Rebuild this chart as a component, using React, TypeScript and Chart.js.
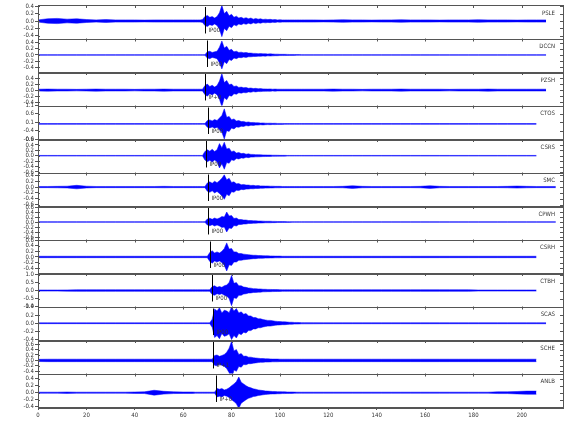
import React, { useEffect, useRef } from "react";
import { Chart, registerables } from "chart.js";

Chart.register(...registerables);

// ---- data ----
const STATIONS = ["PSLE", "DCCN", "PZSH", "CTOS", "CSRS", "SMC", "CPWH", "CSRH", "CTBH", "SCAS", "SCHE", "ANLB"];
const PICKS = ["IP00", "IP00", "IP+0", "IP00", "IP00", "IP00", "IP00", "IP00", "IP00", "IP00", "IP+1", "IP+0"];
const P_TIMES = [69, 69.7, 69, 70.2, 69.3, 70.2, 70.2, 71, 71.8, 72.3, 72.3, 73.4];
const Y_MIN = [-0.47, -0.55, -0.51, -0.9, -0.62, -0.65, -0.7, -0.57, -1.0, -0.41, -0.48, -0.41];
const Y_MAX = [0.43, 0.53, 0.6, 1.1, 0.62, 0.5, 0.64, 0.62, 1.1, 0.41, 0.75, 0.55];
const Y_STEP = [0.2, 0.2, 0.2, 0.5, 0.2, 0.2, 0.2, 0.2, 0.5, 0.2, 0.2, 0.2];
const X_TICKS = [0, 20, 40, 60, 80, 100, 120, 140, 160, 180, 200];

const TIMES = [0, 4, 8, 12, 16, 20, 24, 28, 32, 36, 40, 44, 48, 52, 56, 60, 64,
  65, 66, 67, 68, 69, 70, 71, 72, 73, 74, 75, 76, 77, 78, 79, 80, 81, 82, 83, 84,
  85, 86, 87, 88, 89, 90, 91, 92, 93, 94, 95, 96, 97, 98, 99, 100, 101, 102, 103, 104,
  105, 106, 107, 108, 109, 110,
  114, 118, 122, 126, 130, 134, 138, 142, 146, 150, 154, 158, 162, 166, 170, 174, 178, 182, 186, 190, 194, 198, 202, 206, 210, 214];

// envelope amplitudes (half peak-to-peak) per station, one value per entry of TIMES
const AMP_PSLE = [0.03, 0.06, 0.07, 0.05, 0.06, 0.04, 0.03, 0.04, 0.03, 0.03, 0.03, 0.025, 0.03, 0.03, 0.03, 0.03, 0.03,
  0.03, 0.03, 0.03, 0.04, 0.12, 0.15, 0.1, 0.12, 0.08, 0.12,
  0.22, 0.42, 0.2, 0.26, 0.14, 0.18, 0.1, 0.13, 0.08, 0.1,
  0.07, 0.09, 0.06, 0.08, 0.05, 0.07, 0.05, 0.06, 0.04, 0.05,
  0.04, 0.045, 0.035, 0.04, 0.03, 0.035, 0.03, 0.03, 0.03, 0.03,
  0.03, 0.03, 0.03, 0.03, 0.03, 0.03,
  0.03, 0.025, 0.03, 0.035, 0.03, 0.03, 0.025, 0.03, 0.03, 0.035, 0.03, 0.03, 0.03, 0.025, 0.03, 0.03, 0.03, 0.035, 0.03, 0.03, 0.03, 0.025, 0.03, 0.03, 0.03, null];
const AMP_DCCN = [0.01, 0.01, 0.01, 0.01, 0.01, 0.01, 0.01, 0.01, 0.01, 0.01, 0.01, 0.01, 0.01, 0.01, 0.01, 0.01, 0.01,
  0.01, 0.01, 0.01, 0.01, 0.01, 0.1, 0.12, 0.08, 0.1, 0.12,
  0.25, 0.45, 0.22, 0.28, 0.15, 0.18, 0.1, 0.12, 0.08, 0.09,
  0.07, 0.08, 0.06, 0.06, 0.05, 0.05, 0.04, 0.045, 0.035, 0.04,
  0.03, 0.035, 0.03, 0.025, 0.025, 0.02, 0.02, 0.02, 0.018, 0.015,
  0.015, 0.015, 0.012, 0.012, 0.01, 0.01,
  0.01, 0.01, 0.01, 0.01, 0.01, 0.01, 0.01, 0.01, 0.01, 0.01, 0.01, 0.01, 0.01, 0.01, 0.01, 0.01, 0.01, 0.01, 0.01, 0.01, 0.01, 0.01, 0.01, 0.01, 0.01, null];
const AMP_PZSH = [0.03, 0.035, 0.03, 0.03, 0.025, 0.03, 0.035, 0.03, 0.03, 0.03, 0.025, 0.03, 0.03, 0.035, 0.03, 0.03, 0.03,
  0.03, 0.03, 0.03, 0.03, 0.15, 0.2, 0.12, 0.16, 0.1, 0.15,
  0.3, 0.55, 0.25, 0.32, 0.18, 0.2, 0.12, 0.14, 0.09, 0.1,
  0.08, 0.09, 0.06, 0.07, 0.05, 0.06, 0.045, 0.05, 0.04, 0.04,
  0.035, 0.04, 0.03, 0.035, 0.03, 0.03, 0.03, 0.03, 0.03, 0.03,
  0.03, 0.03, 0.03, 0.03, 0.03, 0.03,
  0.03, 0.03, 0.035, 0.03, 0.03, 0.025, 0.03, 0.03, 0.03, 0.035, 0.03, 0.03, 0.03, 0.03, 0.025, 0.03, 0.03, 0.03, 0.035, 0.03, 0.03, 0.03, 0.03, 0.03, 0.03, null];
const AMP_CTOS = [0.025, 0.025, 0.025, 0.025, 0.025, 0.025, 0.025, 0.025, 0.025, 0.025, 0.025, 0.025, 0.025, 0.025, 0.025, 0.025, 0.025,
  0.025, 0.025, 0.025, 0.025, 0.025, 0.2, 0.24, 0.18, 0.26, 0.2,
  0.35, 0.5, 0.9, 0.4, 0.45, 0.25, 0.3, 0.18, 0.2, 0.14,
  0.15, 0.1, 0.12, 0.08, 0.09, 0.07, 0.07, 0.05, 0.06, 0.045,
  0.04, 0.045, 0.035, 0.04, 0.03, 0.03, 0.03, 0.025, 0.025, 0.025,
  0.025, 0.025, 0.025, 0.025, 0.025, 0.025,
  0.025, 0.025, 0.025, 0.025, 0.025, 0.025, 0.025, 0.025, 0.025, 0.025, 0.025, 0.025, 0.025, 0.025, 0.025, 0.025, 0.025, 0.025, 0.025, 0.025, 0.025, 0.025, 0.025, 0.025, null, null];
const AMP_CSRS = [0.012, 0.012, 0.012, 0.012, 0.012, 0.012, 0.012, 0.012, 0.012, 0.012, 0.012, 0.012, 0.012, 0.012, 0.012, 0.012, 0.012,
  0.012, 0.012, 0.012, 0.012, 0.16, 0.22, 0.17, 0.24, 0.16, 0.22,
  0.45, 0.3, 0.5, 0.25, 0.28, 0.15, 0.18, 0.1, 0.12, 0.08,
  0.09, 0.06, 0.07, 0.05, 0.05, 0.04, 0.04, 0.035, 0.03, 0.03,
  0.025, 0.025, 0.02, 0.02, 0.018, 0.015, 0.015, 0.015, 0.012, 0.012,
  0.012, 0.012, 0.012, 0.012, 0.012, 0.012,
  0.012, 0.012, 0.012, 0.012, 0.012, 0.012, 0.012, 0.012, 0.012, 0.012, 0.012, 0.012, 0.012, 0.012, 0.012, 0.012, 0.012, 0.012, 0.012, 0.012, 0.012, 0.012, 0.012, 0.012, null, null];
const AMP_SMC = [0.02, 0.02, 0.025, 0.03, 0.06, 0.03, 0.02, 0.02, 0.02, 0.02, 0.02, 0.02, 0.02, 0.025, 0.02, 0.02, 0.02,
  0.02, 0.02, 0.02, 0.02, 0.02, 0.14, 0.18, 0.13, 0.2, 0.15,
  0.22, 0.3, 0.42, 0.25, 0.3, 0.16, 0.18, 0.11, 0.12, 0.08,
  0.09, 0.07, 0.07, 0.055, 0.06, 0.045, 0.05, 0.04, 0.04, 0.035,
  0.035, 0.03, 0.03, 0.025, 0.025, 0.025, 0.02, 0.02, 0.02, 0.02,
  0.02, 0.02, 0.02, 0.02, 0.02, 0.02,
  0.02, 0.02, 0.02, 0.025, 0.045, 0.025, 0.02, 0.02, 0.02, 0.02, 0.02, 0.025, 0.045, 0.025, 0.02, 0.02, 0.02, 0.02, 0.02, 0.02, 0.025, 0.035, 0.025, 0.02, 0.02, 0.02];
const AMP_CPWH = [0.012, 0.012, 0.012, 0.012, 0.012, 0.012, 0.012, 0.012, 0.012, 0.012, 0.012, 0.012, 0.012, 0.012, 0.012, 0.012, 0.012,
  0.012, 0.012, 0.012, 0.012, 0.012, 0.12, 0.15, 0.11, 0.16, 0.12,
  0.16, 0.22, 0.2, 0.4, 0.24, 0.26, 0.14, 0.16, 0.1, 0.1,
  0.08, 0.08, 0.06, 0.06, 0.05, 0.05, 0.04, 0.04, 0.035, 0.03,
  0.03, 0.03, 0.025, 0.025, 0.02, 0.02, 0.02, 0.018, 0.015, 0.015,
  0.012, 0.012, 0.012, 0.012, 0.012, 0.012,
  0.012, 0.012, 0.012, 0.012, 0.012, 0.012, 0.012, 0.012, 0.012, 0.012, 0.012, 0.012, 0.012, 0.012, 0.012, 0.012, 0.012, 0.012, 0.012, 0.012, 0.012, 0.012, 0.012, 0.012, 0.012, 0.012];
const AMP_CSRH = [0.025, 0.025, 0.025, 0.025, 0.025, 0.025, 0.025, 0.025, 0.025, 0.025, 0.025, 0.025, 0.025, 0.025, 0.025, 0.025, 0.025,
  0.025, 0.025, 0.025, 0.025, 0.025, 0.025, 0.16, 0.22, 0.14, 0.18,
  0.14, 0.2, 0.3, 0.5, 0.28, 0.3, 0.18, 0.18, 0.12, 0.12,
  0.1, 0.09, 0.08, 0.07, 0.06, 0.06, 0.05, 0.05, 0.045, 0.04,
  0.04, 0.035, 0.035, 0.03, 0.03, 0.03, 0.025, 0.025, 0.025, 0.025,
  0.025, 0.025, 0.025, 0.025, 0.025, 0.025,
  0.025, 0.025, 0.025, 0.025, 0.025, 0.025, 0.025, 0.025, 0.025, 0.025, 0.025, 0.025, 0.025, 0.025, 0.025, 0.025, 0.025, 0.025, 0.025, 0.025, 0.025, 0.025, 0.025, 0.025, null, null];
const AMP_CTBH = [0.035, 0.035, 0.035, 0.04, 0.05, 0.05, 0.05, 0.05, 0.05, 0.05, 0.05, 0.05, 0.05, 0.05, 0.05, 0.05, 0.05,
  0.05, 0.05, 0.05, 0.05, 0.05, 0.05, 0.05, 0.25, 0.3, 0.2,
  0.25, 0.2, 0.3, 0.35, 0.5, 0.95, 0.45, 0.5, 0.3, 0.3,
  0.22, 0.2, 0.16, 0.15, 0.12, 0.12, 0.1, 0.1, 0.08, 0.08,
  0.07, 0.07, 0.065, 0.06, 0.06, 0.055, 0.05, 0.05, 0.05, 0.05,
  0.05, 0.05, 0.05, 0.05, 0.05, 0.05,
  0.05, 0.05, 0.05, 0.05, 0.05, 0.05, 0.05, 0.05, 0.05, 0.05, 0.05, 0.05, 0.05, 0.05, 0.05, 0.05, 0.05, 0.035, 0.035, 0.035, 0.035, 0.035, 0.035, 0.035, null, null];
const AMP_SCAS = [0.01, 0.01, 0.01, 0.01, 0.01, 0.01, 0.01, 0.01, 0.01, 0.01, 0.01, 0.01, 0.01, 0.01, 0.01, 0.01, 0.01,
  0.01, 0.01, 0.01, 0.01, 0.01, 0.01, 0.01, 0.1, 0.35, 0.3,
  0.38, 0.25, 0.32, 0.3, 0.26, 0.4, 0.3, 0.36, 0.25, 0.28,
  0.22, 0.24, 0.18, 0.18, 0.14, 0.14, 0.11, 0.11, 0.09, 0.08,
  0.07, 0.07, 0.06, 0.05, 0.045, 0.04, 0.035, 0.035, 0.03, 0.025,
  0.025, 0.02, 0.02, 0.018, 0.015, 0.015,
  0.014, 0.012, 0.012, 0.012, 0.012, 0.012, 0.012, 0.012, 0.012, 0.012, 0.012, 0.012, 0.012, 0.012, 0.012, 0.012, 0.012, 0.012, 0.012, 0.012, 0.012, 0.012, 0.012, 0.012, 0.012, null];
const AMP_SCHE = [0.04, 0.045, 0.045, 0.045, 0.045, 0.045, 0.045, 0.045, 0.045, 0.045, 0.045, 0.045, 0.045, 0.045, 0.045, 0.045, 0.045,
  0.045, 0.045, 0.045, 0.045, 0.045, 0.045, 0.045, 0.045, 0.18, 0.2,
  0.15, 0.18, 0.22, 0.3, 0.45, 0.7, 0.35, 0.4, 0.22, 0.25,
  0.15, 0.16, 0.12, 0.12, 0.1, 0.09, 0.08, 0.07, 0.07, 0.06,
  0.06, 0.055, 0.05, 0.05, 0.05, 0.045, 0.045, 0.045, 0.045, 0.045,
  0.045, 0.045, 0.045, 0.045, 0.045, 0.045,
  0.045, 0.045, 0.045, 0.045, 0.045, 0.045, 0.045, 0.045, 0.045, 0.045, 0.045, 0.045, 0.045, 0.045, 0.045, 0.045, 0.045, 0.045, 0.045, 0.045, 0.045, 0.045, 0.045, 0.045, null, null];
const AMP_ANLB = [0.015, 0.015, 0.015, 0.02, 0.015, 0.015, 0.015, 0.015, 0.015, 0.015, 0.02, 0.025, 0.07, 0.04, 0.025, 0.02, 0.02,
  0.015, 0.015, 0.015, 0.015, 0.015, 0.015, 0.015, 0.015, 0.015, 0.12,
  0.1, 0.12, 0.08, 0.1, 0.14, 0.2, 0.25, 0.32, 0.45, 0.3,
  0.25, 0.2, 0.16, 0.14, 0.11, 0.1, 0.08, 0.07, 0.06, 0.05,
  0.045, 0.04, 0.035, 0.035, 0.03, 0.03, 0.025, 0.025, 0.02, 0.02,
  0.02, 0.018, 0.015, 0.015, 0.015, 0.015,
  0.015, 0.015, 0.015, 0.015, 0.015, 0.015, 0.015, 0.015, 0.015, 0.015, 0.015, 0.015, 0.015, 0.015, 0.015, 0.015, 0.015, 0.015, 0.015, 0.025, 0.025, 0.035, 0.045, 0.045, null, null];

const AMPS = [AMP_PSLE, AMP_DCCN, AMP_PZSH, AMP_CTOS, AMP_CSRS, AMP_SMC, AMP_CPWH, AMP_CSRH, AMP_CTBH, AMP_SCAS, AMP_SCHE, AMP_ANLB];

const BLUE = "rgb(0,0,255)";
const FONT = '"DejaVu Sans Condensed", "Liberation Sans Narrow", "DejaVu Sans", sans-serif';

const panelPlugin = {
  id: "panels",
  afterDatasetsDraw(chart: any) {
    const { ctx, chartArea } = chart;
    const left = chartArea.left;
    const right = chartArea.right;
    const xs = chart.scales.x;
    ctx.save();
    STATIONS.forEach((name, i) => {
      const s = chart.scales["y" + i];
      const top = s.top;
      const bot = s.bottom;
      const h = bot - top;
      ctx.strokeStyle = "#555";
      ctx.lineWidth = 1;
      ctx.strokeRect(Math.round(left) + 0.5, Math.round(top) + 0.5, Math.round(right - left), Math.round(h));
      ctx.beginPath();
      X_TICKS.forEach((v) => {
        const px = Math.round(xs.getPixelForValue(v)) + 0.5;
        ctx.moveTo(px, top);
        ctx.lineTo(px, top + 3);
      });
      s.ticks.forEach((t: any) => {
        const py = Math.round(s.getPixelForValue(t.value)) + 0.5;
        ctx.moveTo(right, py);
        ctx.lineTo(right - 3, py);
        ctx.moveTo(left, py);
        ctx.lineTo(left + 2, py);
      });
      ctx.stroke();
      ctx.fillStyle = "#333";
      ctx.font = `6px ${FONT}`;
      ctx.textAlign = "right";
      ctx.textBaseline = "middle";
      ctx.fillText(name, right - 8, top + 8);
      const px = Math.round(xs.getPixelForValue(P_TIMES[i])) + 0.5;
      ctx.strokeStyle = "#000";
      ctx.beginPath();
      ctx.moveTo(px, top + 2);
      ctx.lineTo(px, top + h * 0.85);
      ctx.stroke();
      ctx.textAlign = "left";
      ctx.fillText(PICKS[i], px + 3, top + h * 0.76);
    });
    ctx.restore();
  },
};

export default function App() {
  const ref = useRef<HTMLCanvasElement | null>(null);
  useEffect(() => {
    if (!ref.current) return;
    const datasets: any[] = [];
    STATIONS.forEach((_, i) => {
      const amp = AMPS[i];
      datasets.push({
        data: TIMES.map((t, k) => ({ x: t, y: amp[k] == null ? null : amp[k] })),
        yAxisID: "y" + i,
        borderColor: BLUE,
        borderWidth: 0.5,
        pointRadius: 0,
        pointHoverRadius: 0,
        fill: false,
      });
      datasets.push({
        data: TIMES.map((t, k) => ({ x: t, y: amp[k] == null ? null : -(amp[k] as number) })),
        yAxisID: "y" + i,
        borderColor: BLUE,
        backgroundColor: BLUE,
        borderWidth: 0.5,
        pointRadius: 0,
        pointHoverRadius: 0,
        fill: "-1",
      });
    });
    const scales: any = {
      x: {
        type: "linear",
        min: 0,
        max: 217,
        ticks: {
          stepSize: 20,
          includeBounds: false,
          font: { size: 6, family: FONT },
          color: "#333",
          padding: 2,
          maxRotation: 0,
        },
        grid: { drawOnChartArea: false, tickLength: 3, color: "#555" },
        border: { color: "#555" },
        afterFit(s: any) {
          s.height = 33;
        },
      },
    };
    for (let i = STATIONS.length - 1; i >= 0; i--) {
      scales["y" + i] = {
        type: "linear",
        position: "left",
        stack: "traces",
        stackWeight: 1,
        min: Y_MIN[i],
        max: Y_MAX[i],
        ticks: {
          stepSize: Y_STEP[i],
          includeBounds: false,
          autoSkip: false,
          font: { size: 6, family: FONT },
          color: "#333",
          padding: 1,
          callback: (v: any) => Number(v).toFixed(1),
        },
        grid: { drawOnChartArea: false, tickLength: 3, color: "#555" },
        border: { color: "#555" },
        afterFit(s: any) {
          s.width = 38;
        },
      };
    }
    const chart = new Chart(ref.current, {
      type: "line",
      data: { datasets },
      options: {
        animation: false,
        responsive: false,
        events: [],
        layout: { padding: { left: 0, right: 17, top: 5, bottom: 0 } },
        plugins: { legend: { display: false }, tooltip: { enabled: false } },
        scales,
      },
      plugins: [panelPlugin],
    });
    return () => chart.destroy();
  }, []);
  return (
    <div style={{ position: "absolute", left: 0, top: 0, width: 580, height: 440, background: "#fff" }}>
      <canvas ref={ref} width={580} height={440} />
    </div>
  );
}
